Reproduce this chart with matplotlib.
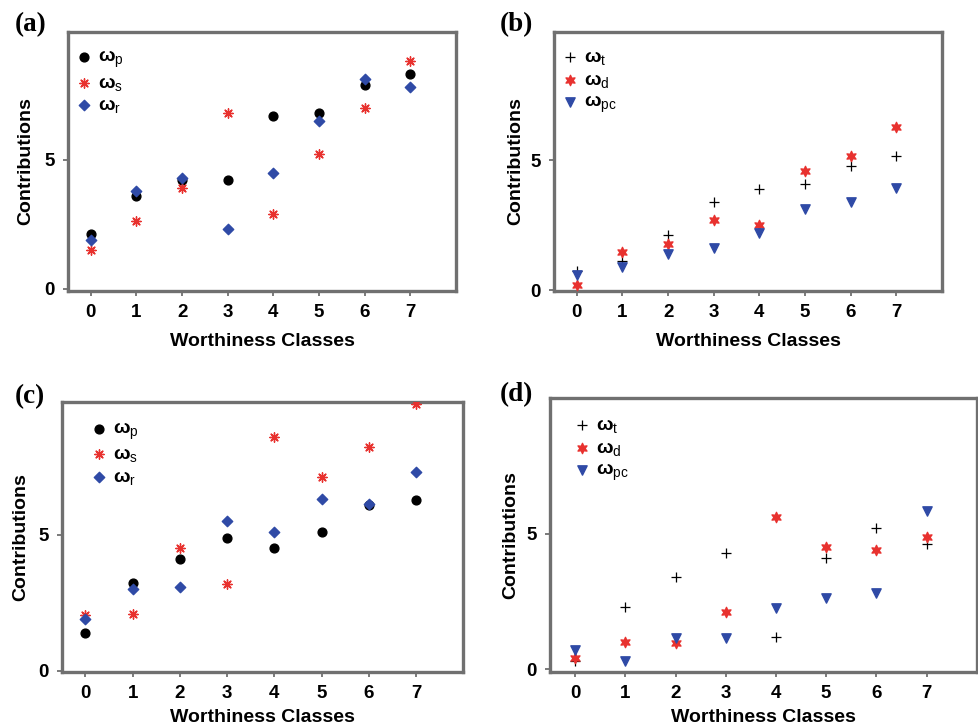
import matplotlib
matplotlib.use("Agg")
import matplotlib.pyplot as plt

plt.rcParams['font.family'] = ['Liberation Sans', 'DejaVu Sans']
plt.rcParams['mathtext.fontset'] = 'custom'
plt.rcParams['mathtext.rm'] = 'Liberation Sans'
plt.rcParams['mathtext.it'] = 'Liberation Sans'
plt.rcParams['mathtext.bf'] = 'Liberation Sans:bold'

classes = [0, 1, 2, 3, 4, 5, 6, 7]

# panel (a)
a_p = [2.12, 3.6, 4.21, 4.21, 6.71, 6.81, 7.9, 8.32]
a_s = [1.5, 2.62, 3.92, 6.81, 2.91, 5.21, 7.01, 8.82]
a_r = [1.89, 3.81, 4.31, 2.31, 4.49, 6.5, 8.12, 7.82]

# panel (b)
b_t = [0.74, 1.13, 2.11, 3.39, 3.89, 4.09, 4.8, 5.19]
b_d = [0.2, 1.48, 1.79, 2.7, 2.51, 4.58, 5.18, 6.28]
b_pc = [0.58, 0.91, 1.39, 1.62, 2.22, 3.12, 3.4, 3.93]

# panel (c)
c_p = [1.4, 3.21, 4.11, 4.89, 4.5, 5.1, 6.1, 6.29]
c_s = [2.04, 2.1, 4.5, 3.2, 8.6, 7.11, 8.21, 9.78]
c_r = [1.9, 2.99, 3.09, 5.49, 5.1, 6.3, 6.11, 7.29]

# panel (d)
d_t = [0.31, 2.29, 3.39, 4.3, 1.19, 4.09, 5.2, 4.61]
d_d = [0.41, 1.0, 0.98, 2.1, 5.6, 4.5, 4.39, 4.89]
d_pc = [0.71, 0.32, 1.17, 1.14, 2.25, 2.64, 2.81, 5.85]

red = '#e8312e'
blue = '#2f4aa6'
frame = '#707070'

W, H = 979, 726


def om(sub):
    # bold omega with a plain subscript
    return 'ω$_{\\mathrm{' + sub + '}}$'


def style(ax, ylim, leg_dx, leg_dy, xl_dy, yl_dx):
    ax.set_xlim(-0.5, 8)
    ax.set_ylim(*ylim)
    ax.set_xticks(classes)
    ax.set_yticks([0, 5])
    for s in ax.spines.values():
        s.set_color(frame)
        s.set_linewidth(2.4)
    ax.tick_params(colors=frame, width=1.3, length=3.6, pad=6, labelsize=13.5)
    for lab in ax.get_xticklabels() + ax.get_yticklabels():
        lab.set_color('black')
        lab.set_fontweight('bold')
    pos = ax.get_position()
    wpx = pos.width * W
    hpx = pos.height * H
    ax.set_xlabel('Worthiness Classes', fontsize=14, fontweight='bold')
    ax.set_ylabel('Contributions', fontsize=14, fontweight='bold')
    ax.xaxis.set_label_coords(0.5, -xl_dy / hpx)
    ax.yaxis.set_label_coords(-yl_dx / wpx, 0.5)
    # legend: offsets in pixels from the upper left corner of the axes
    ax.legend(loc='upper left', frameon=False, prop={'size': 14, 'weight': 'bold'},
              markerscale=1.0, handlelength=0.6, handletextpad=0.42,
              labelspacing=0.2, borderaxespad=0, borderpad=0,
              bbox_to_anchor=((leg_dx - 5.8) / wpx, 1 - (leg_dy - 7.5) / hpx))


def panel_psr(ax, p, s, r, ylim, **kw):
    ax.scatter(classes, p, marker='o', s=40, color='black', label=om('p'), zorder=3)
    ax.scatter(classes, s, marker=(8, 2, 0), s=45, color=red, linewidths=1.0,
               label=om('s'), zorder=3)
    ax.scatter(classes, r, marker='D', s=28, color=blue, label=om('r'), zorder=3)
    style(ax, ylim, **kw)


def panel_tdpc(ax, t, d, pc, ylim, **kw):
    ax.scatter(classes, t, marker='+', s=50, color='black', linewidths=0.9,
               label=om('t'), zorder=3)
    ax.scatter(classes, d, marker=(6, 1, 0), s=55, color=red, label=om('d'), zorder=3)
    ax.scatter(classes, pc, marker='v', s=45, color=blue, label=om('pc'), zorder=3)
    style(ax, ylim, **kw)


fig = plt.figure(figsize=(9.79, 7.26), dpi=100)
ax_a = fig.add_axes([68 / W, 1 - 291 / H, 388 / W, 259 / H])
ax_b = fig.add_axes([554 / W, 1 - 291 / H, 388 / W, 259 / H])
ax_c = fig.add_axes([61.7 / W, 1 - 671.7 / H, 401.6 / W, 270 / H])
ax_d = fig.add_axes([550 / W, 1 - 671.7 / H, 426.7 / W, 273.4 / H])

panel_psr(ax_a, a_p, a_s, a_r, (-0.08, 9.95), leg_dx=16, leg_dy=24, xl_dy=41.5, yl_dx=34)
panel_tdpc(ax_b, b_t, b_d, b_pc, (-0.03, 9.95), leg_dx=16, leg_dy=24, xl_dy=41.5, yl_dx=30)
panel_psr(ax_c, c_p, c_s, c_r, (-0.03, 9.88), leg_dx=37, leg_dy=26, xl_dy=37, yl_dx=32)
panel_tdpc(ax_d, d_t, d_d, d_pc, (-0.09, 9.99), leg_dx=32, leg_dy=26, xl_dy=37, yl_dx=31)

for x, y, t in [(15, 25, '(a)'), (500, 25, '(b)'), (15, 397, '(c)'), (500, 395, '(d)')]:
    fig.text(x / W, 1 - y / H, t, family='Liberation Serif', fontweight='bold',
             fontsize=19.5, va='center', ha='left')

fig.savefig('out.png', dpi=100)
